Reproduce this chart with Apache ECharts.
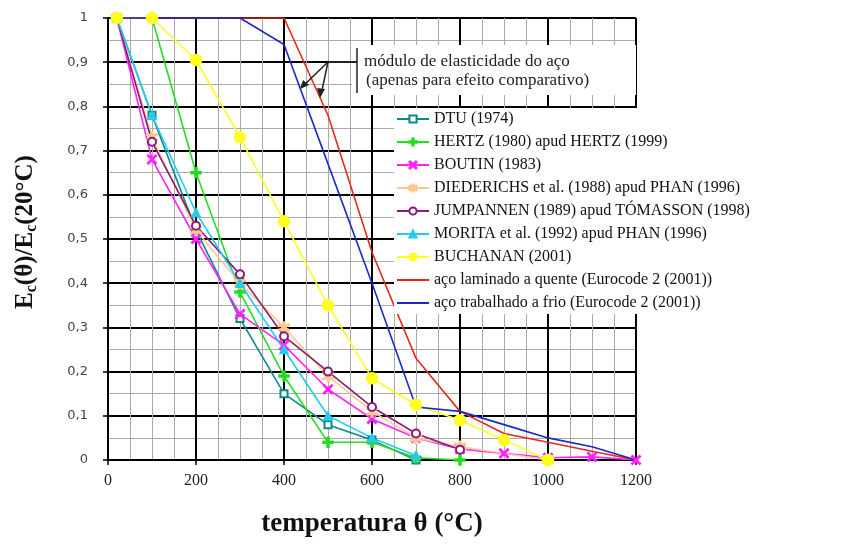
<!DOCTYPE html>
<html>
<head>
<meta charset="utf-8">
<script src="https://cdn.jsdelivr.net/npm/echarts@6/dist/echarts.min.js"></script>
<style>
  html, body { margin: 0; padding: 0; background: #fff; }
</style>
</head>
<body>
<div id="main" style="width: 848px; height: 544px"></div>
<script>
// series names (legend order)
const names = [
  "DTU (1974)",
  "HERTZ (1980) apud HERTZ (1999)",
  "BOUTIN (1983)",
  "DIEDERICHS et al. (1988) apud PHAN (1996)",
  "JUMPANNEN (1989) apud TÓMASSON (1998)",
  "MORITA et al. (1992) apud PHAN (1996)",
  "BUCHANAN (2001)",
  "aço laminado a quente (Eurocode 2 (2001))",
  "aço trabalhado a frio (Eurocode 2 (2001))",
];

// temperatures (°C) and E_c(θ)/E_c(20°C)
const dtuT = [20, 100, 200, 300, 400, 500, 600, 700];
const dtuE = [1, 0.78, 0.52, 0.32, 0.15, 0.08, 0.045, 0];
const hertzT = [20, 100, 200, 300, 400, 500, 600, 700, 800];
const hertzE = [1, 1, 0.65, 0.38, 0.19, 0.04, 0.04, 0.005, 0];
const boutinT = [20, 100, 200, 300, 400, 500, 600, 700, 800, 900, 1000, 1100, 1200];
const boutinE = [1, 0.68, 0.5, 0.33, 0.26, 0.16, 0.093, 0.05, 0.025, 0.015, 0.005, 0.007, 0];
const diedT = [20, 100, 200, 300, 400, 500, 600, 700, 800, 1000];
const diedE = [1, 0.73, 0.52, 0.4, 0.3, 0.19, 0.11, 0.05, 0.03, 0];
const jumpT = [20, 100, 200, 300, 400, 500, 600, 700, 800];
const jumpE = [1, 0.72, 0.53, 0.42, 0.28, 0.2, 0.12, 0.06, 0.023];
const moritaT = [20, 100, 200, 300, 400, 500, 600, 700];
const moritaE = [1, 0.78, 0.56, 0.4, 0.25, 0.1, 0.05, 0.01];
const buchT = [20, 100, 200, 300, 400, 500, 600, 700, 800, 900, 1000];
const buchE = [1, 1, 0.905, 0.73, 0.54, 0.35, 0.185, 0.125, 0.09, 0.045, 0];
const steelT = [20, 100, 200, 300, 400, 500, 600, 700, 800, 900, 1000, 1100, 1200];
const hotE = [1, 1, 1, 1, 1, 0.78, 0.47, 0.23, 0.11, 0.06, 0.04, 0.02, 0];
const coldE = [1, 1, 1, 1, 0.94, 0.67, 0.4, 0.12, 0.11, 0.08, 0.05, 0.03, 0];

const plusPath = "path://M4,0H6V4H10V6H6V10H4V6H0V4H4Z";
const starPath = "path://M4.3,0H5.7V3.3L8.6,1.6L9.3,2.8L6.4,4.5V5.5L9.3,7.2L8.6,8.4L5.7,6.7V10H4.3V6.7L1.4,8.4L0.7,7.2L3.6,5.5V4.5L0.7,2.8L1.4,1.6L4.3,3.3Z";
const crossPath = "path://M1,0L5,4L9,0L10,1L6,5L10,9L9,10L5,6L1,10L0,9L4,5L0,1Z";

function pairs(t, e) {
  return t.map((v, i) => [v, e[i]]);
}

function line(name, t, e, color, symbol, size, width) {
  return {
    name: name,
    type: "line",
    data: pairs(t, e),
    symbol: symbol,
    symbolSize: size,
    showSymbol: symbol !== "none",
    lineStyle: { color: color, width: width || 1.6 },
    itemStyle: { color: color, borderColor: color, borderWidth: 1.5 },
    emphasis: { disabled: true },
    animation: false,
  };
}

var myChart = echarts.init(document.getElementById("main"), null, { renderer: "canvas" });

const serif = "'Liberation Serif', 'DejaVu Serif', serif";

// legend entries, the two steel curves have no marker
const legendData = names.map((n, i) =>
  i >= 7 ? { name: n, itemStyle: { opacity: 0 } } : { name: n }
);

let option = {
  backgroundColor: "#fff",
  grid: { left: 108, top: 18, right: 212, bottom: 84, containLabel: false },
  xAxis: {
    type: "value",
    min: 0,
    max: 1200,
    interval: 200,
    name: "temperatura θ (°C)",
    nameLocation: "middle",
    nameGap: 51,
    nameTextStyle: { fontFamily: serif, fontSize: 27, fontWeight: "bold", color: "#111" },
    axisLine: { show: true, onZero: false, lineStyle: { color: "#000", width: 2 } },
    axisTick: { show: true, length: 5, lineStyle: { color: "#000", width: 1.5 } },
    axisLabel: {
      fontFamily: serif, fontSize: 16, color: "#222", margin: 13,
      formatter: function (v) { return String(v); },
    },
    splitLine: { show: true, lineStyle: { color: "#000", width: 2 } },
    minorTick: { show: false, splitNumber: 4 },
    minorSplitLine: { show: true, lineStyle: { color: "#aaa", width: 1 } },
  },
  yAxis: {
    type: "value",
    min: 0,
    max: 1,
    interval: 0.1,
    name: "{b|E}{s|c}{b|(θ)/E}{s|c}{b|(20°C)}",
    nameLocation: "middle",
    nameGap: 68,
    nameRotate: 90,
    nameTextStyle: {
      padding: [0, 0, 0, 14],
      rich: {
        b: { fontFamily: serif, fontSize: 25, fontWeight: "bold", color: "#111" },
        s: { fontFamily: serif, fontSize: 16, fontWeight: "bold", color: "#111", verticalAlign: "bottom", padding: [12, 0, 0, 0] },
      },
    },
    axisLine: { show: true, lineStyle: { color: "#000", width: 2 } },
    axisTick: { show: true, length: 5, lineStyle: { color: "#000", width: 1.5 } },
    axisLabel: {
      fontFamily: "'DejaVu Sans', sans-serif",
      fontSize: 13,
      color: "#444",
      margin: 20,
      formatter: function (v) {
        return String(Math.round(v * 10) / 10).replace(".", ",");
      },
    },
    splitLine: { show: true, lineStyle: { color: "#000", width: 2 } },
    minorTick: { show: false, splitNumber: 2 },
    minorSplitLine: { show: true, lineStyle: { color: "#aaa", width: 1 } },
  },
  legend: {
    orient: "vertical",
    left: 394,
    top: 108,
    padding: [2, 4, 2, 2],
    backgroundColor: "#fff",
    itemWidth: 32,
    itemHeight: 9,
    itemGap: 5,
    textStyle: { fontFamily: serif, fontSize: 16, color: "#111", lineHeight: 18 },
    data: legendData,
  },
  graphic: [
    { type: "rect", shape: { x: 352, y: 45, width: 284, height: 50 }, style: { fill: "#fff" }, z: 50 },
    { type: "line", shape: { x1: 357, y1: 48, x2: 357, y2: 93 }, style: { stroke: "#222", lineWidth: 1.5 }, z: 51 },
    { type: "line", shape: { x1: 328, y1: 62, x2: 357, y2: 62 }, style: { stroke: "#222", lineWidth: 2 }, z: 51 },
    { type: "line", shape: { x1: 328, y1: 62, x2: 302, y2: 87 }, style: { stroke: "#222", lineWidth: 1.5 }, z: 51 },
    { type: "line", shape: { x1: 328, y1: 62, x2: 321, y2: 95 }, style: { stroke: "#222", lineWidth: 1.5 }, z: 51 },
    { type: "polygon", shape: { points: [[300, 89], [303, 80], [309, 85]] }, style: { fill: "#222" }, z: 51 },
    { type: "polygon", shape: { points: [[320, 98], [317, 88], [325, 89]] }, style: { fill: "#222" }, z: 51 },
    {
      type: "text", left: 364, top: 53, z: 52,
      style: { text: "módulo de elasticidade do aço", fontFamily: serif, fontSize: 17, fill: "#222" },
    },
    {
      type: "text", left: 366, top: 72, z: 52,
      style: { text: "(apenas para efeito comparativo)", fontFamily: serif, fontSize: 17, fill: "#222" },
    },
  ],
  series: [
    line(names[0], dtuT, dtuE, "#0a8a8a", "emptyRect", 7),
    line(names[1], hertzT, hertzE, "#22dd22", plusPath, 10),
    line(names[2], boutinT, boutinE, "#ff22ff", crossPath, 9),
    line(names[3], diedT, diedE, "#ffc890", starPath, 11),
    line(names[4], jumpT, jumpE, "#8a1a7a", "emptyCircle", 8),
    line(names[5], moritaT, moritaE, "#22ccee", "triangle", 8),
    line(names[6], buchT, buchE, "#ffff22", "circle", 11),
    line(names[7], steelT, hotE, "#e52a1a", "none", 0),
    line(names[8], steelT, coldE, "#1a2ac8", "none", 0),
  ],
};

option && myChart.setOption(option);
</script>
</body>
</html>
